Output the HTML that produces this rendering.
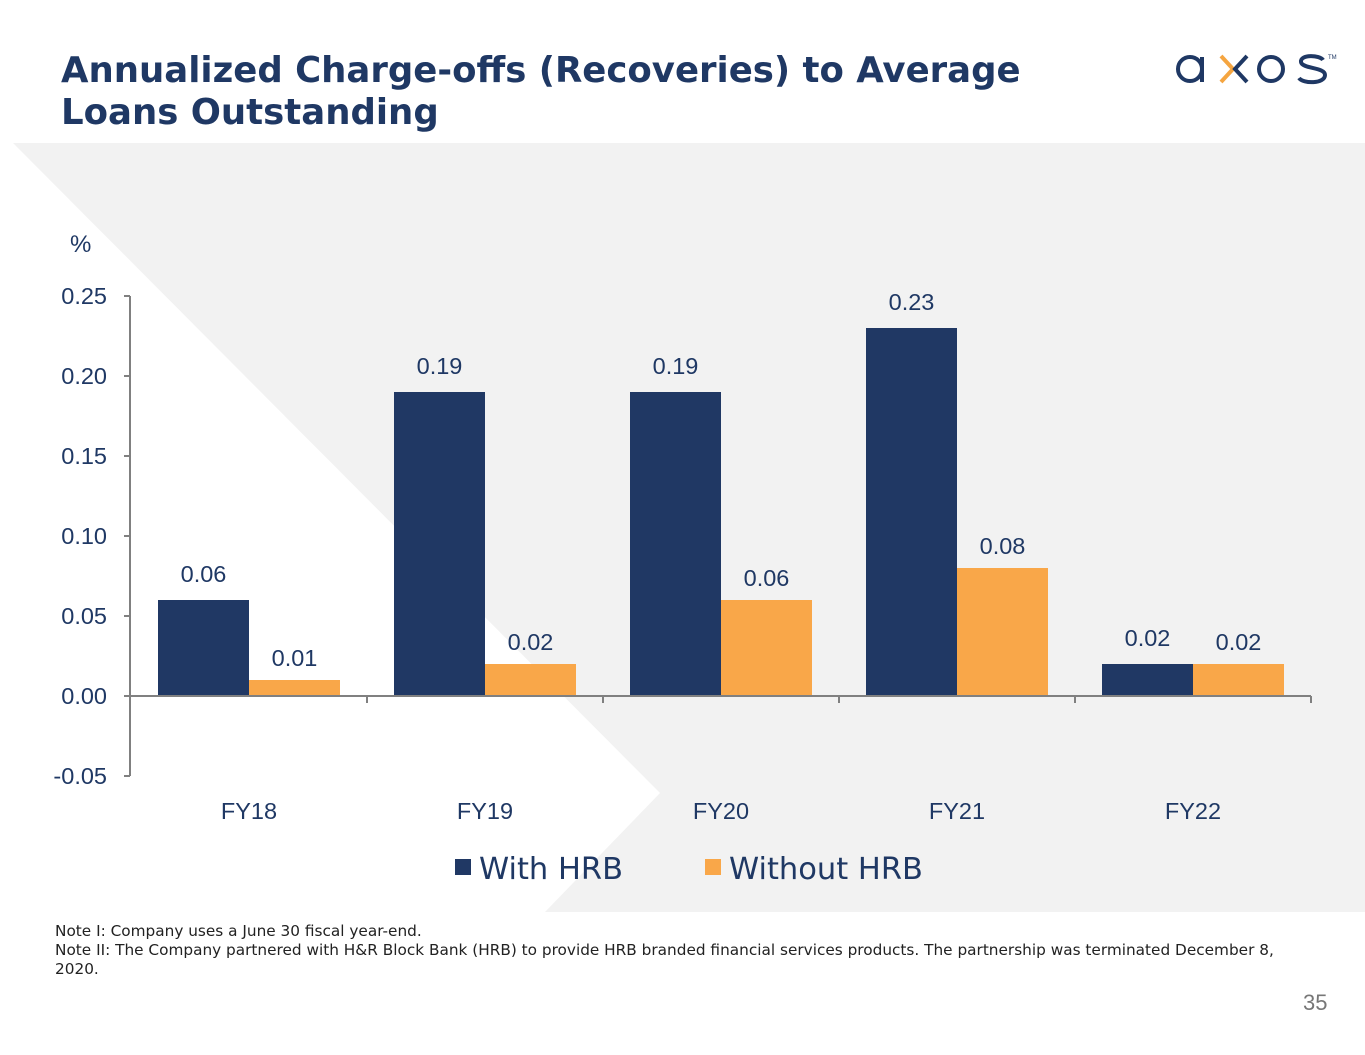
<!DOCTYPE html>
<html><head><meta charset="utf-8"><style>
body{margin:0;width:1365px;height:1055px;background:#fff;font-family:"Liberation Sans","DejaVu Sans",sans-serif;position:relative;overflow:hidden}
.t{position:absolute;left:61px;top:50px;font-family:"DejaVu Sans",sans-serif;font-weight:bold;font-size:35.5px;line-height:42px;color:#1f3864;margin:0;white-space:nowrap}
.note{position:absolute;left:55px;top:922px;font-family:"DejaVu Sans",sans-serif;font-size:15.3px;line-height:19px;color:#222;width:1240px}
.pg{position:absolute;left:1303px;top:990px;font-size:22px;color:#777}
</style></head><body>
<svg style="position:absolute;left:0;top:0" width="1365" height="1055">
<rect x="0" y="143" width="1365" height="769" fill="#f2f2f2"/>
<polygon points="0,143 13,143 660,793 545,912 0,912" fill="#fff"/>
</svg>
<h1 class="t">Annualized Charge-offs (Recoveries) to Average<br>Loans Outstanding</h1>
<svg style="position:absolute;left:1170px;top:45px" width="170" height="50">
<circle cx="20" cy="24" r="12" fill="none" stroke="#1f3864" stroke-width="4"/><line x1="32" y1="12" x2="32" y2="37" stroke="#1f3864" stroke-width="4"/>
<polyline points="51,11 63,24 51,37" fill="none" stroke="#f5a540" stroke-width="4"/><polyline points="77,11 65,24 77,37" fill="none" stroke="#1f3864" stroke-width="4"/>
<circle cx="101" cy="24" r="12" fill="none" stroke="#1f3864" stroke-width="4"/>
<path d="M153,15 C150,10 130,9 131,17 C132,24 155,22 155,30 C155,39 133,39 129,33" fill="none" stroke="#1f3864" stroke-width="4"/>
<text x="158" y="14" font-size="6" fill="#1f3864">TM</text>
</svg>
<svg id="chart" style="position:absolute;left:0;top:0" width="1365" height="1055"></svg>
<div class="note">Note I: Company uses a June 30 fiscal year-end.<br>Note II: The Company partnered with H&amp;R Block Bank (HRB) to provide HRB branded financial services products. The partnership was terminated December 8, 2020.</div>
<div class="pg">35</div>
<script>
const categories=["FY18","FY19","FY20","FY21","FY22"];
const withHRB=[0.06,0.19,0.19,0.23,0.02];
const withoutHRB=[0.01,0.02,0.06,0.08,0.02];
const yTicks=[-0.05,0,0.05,0.10,0.15,0.20,0.25];
const yTickLabels=["-0.05","0.00","0.05","0.10","0.15","0.20","0.25"];
const svg=document.getElementById('chart');const NS="http://www.w3.org/2000/svg";
function y(v){return 696-v*1600;}
const x0=131,band=236;function xc(i){return x0+band*i+band/2;}
function mk(t,a,p){const e=document.createElementNS(NS,t);for(const k in a)e.setAttribute(k,a[k]);(p||svg).appendChild(e);return e;}
let ya=mk('line',{x1:130,x2:130,y1:y(0.25),y2:y(-0.05),stroke:'#808080','stroke-width':2});

yTicks.forEach((v,i)=>{mk('line',{x1:124,x2:130,y1:y(v),y2:y(v),stroke:'#808080','stroke-width':2});
const t=mk('text',{x:107,y:y(v)+8,'text-anchor':'end','font-size':23.5,fill:'#1f3864'});t.textContent=yTickLabels[i];
});
let u=mk('text',{x:70,y:252,'font-size':24,fill:'#1f3864'});u.textContent='%';

const bw=91;
categories.forEach((c,i)=>{const cx=xc(i);
const b1=mk('rect',{x:cx-bw,y:y(withHRB[i]),width:bw,height:y(0)-y(withHRB[i]),fill:'#203864'});

const b2=mk('rect',{x:cx,y:y(withoutHRB[i]),width:bw,height:y(0)-y(withoutHRB[i]),fill:'#f9a749'});

const l1=mk('text',{x:cx-bw/2,y:y(withHRB[i])-18,'text-anchor':'middle','font-size':23.5,fill:'#1f3864'});l1.textContent=withHRB[i].toFixed(2);

const l2=mk('text',{x:cx+bw/2,y:y(withoutHRB[i])-14,'text-anchor':'middle','font-size':23.5,fill:'#1f3864'});l2.textContent=withoutHRB[i].toFixed(2);

const cl=mk('text',{x:cx,y:819,'text-anchor':'middle','font-size':23.5,fill:'#1f3864'});cl.textContent=c;

mk('line',{x1:x0+band*(i+1),x2:x0+band*(i+1),y1:696,y2:703,stroke:'#808080','stroke-width':2});});
let xa=mk('line',{x1:124,x2:x0+band*categories.length,y1:696,y2:696,stroke:'#808080','stroke-width':2});

const lg=[["With HRB","#203864",455],["Without HRB","#f9a749",705]];
lg.forEach(l=>{const g=mk('g',{});
mk('rect',{x:l[2],y:859,width:16,height:16,fill:l[1]},g);const t=mk('text',{x:l[2]+24,y:879,'font-size':30.5,fill:'#1f3864','font-family':'DejaVu Sans'},g);t.textContent=l[0];});
</script>
</body></html>
